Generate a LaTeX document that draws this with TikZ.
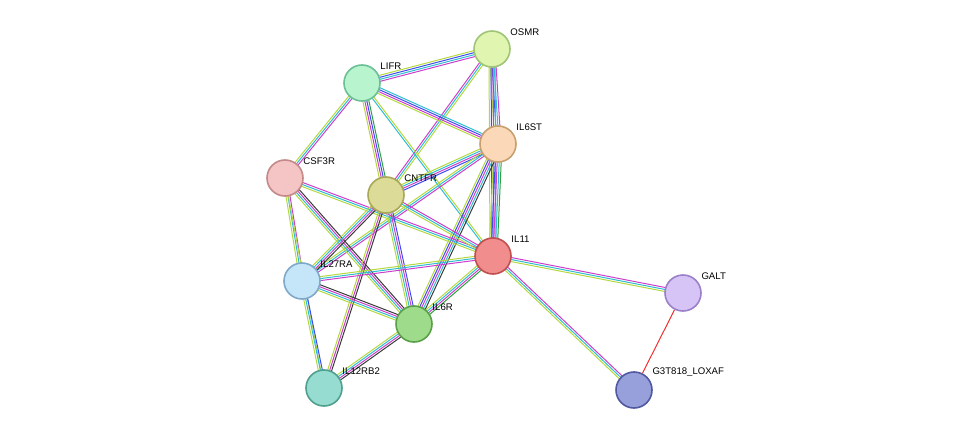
\documentclass[tikz,border=0pt]{standalone}
\usepackage{fontspec}
\setmainfont{Liberation Sans}
\usetikzlibrary{calc,backgrounds}
\definecolor{tm}{HTML}{B5D83E}
\definecolor{db}{HTML}{2EBDD1}
\definecolor{ex}{HTML}{CC3ECC}
\definecolor{hm}{HTML}{3D4CF0}
\definecolor{co}{HTML}{3A3A3A}
\definecolor{gn}{HTML}{2FA040}
\definecolor{fu}{HTML}{F03030}
\tikzset{
  prot/.style={draw,shape=circle,line width=1.6pt,minimum size=36pt,inner sep=0pt},
  lab/.style={anchor=south west,inner sep=1pt,xshift=4pt,yshift=-1pt,font=\fontsize{9.6}{10}\selectfont},
  lnk/.style={line width=1pt}
}
% one coloured line per evidence channel, offset sideways
\newcommand\strEdge[3]{%
  \foreach \c/\o in {#3}{%
    \draw[lnk,\c] ($(#1)!\o pt!90:(#2)$) -- ($(#2)!\o pt!-90:(#1)$);}}
\begin{document}
\begin{tikzpicture}[x=1pt,y=-1pt]
  \useasboundingbox (0,0) rectangle (975,436);
  \node[prot,fill={rgb,255:red,223;green,245;blue,176},draw={rgb,255:red,160;green,196;blue,120},label={[lab]north east:OSMR}] (OSMR) at (492,49) {};
  \node[prot,fill={rgb,255:red,184;green,245;blue,207},draw={rgb,255:red,108;green,192;blue,150},label={[lab]north east:LIFR}] (LIFR) at (362,83) {};
  \node[prot,fill={rgb,255:red,251;green,217;blue,184},draw={rgb,255:red,200;green,160;blue,112},label={[lab]north east:IL6ST}] (IL6ST) at (498,144) {};
  \node[prot,fill={rgb,255:red,245;green,196;blue,196},draw={rgb,255:red,196;green,138;blue,138},label={[lab]north east:CSF3R}] (CSF3R) at (285,178) {};
  \node[prot,fill={rgb,255:red,220;green,220;blue,152},draw={rgb,255:red,168;green,168;blue,88},label={[lab]north east:CNTFR}] (CNTFR) at (386,195) {};
  \node[prot,fill={rgb,255:red,242;green,141;blue,141},draw={rgb,255:red,192;green,80;blue,80},label={[lab]north east:IL11}] (IL11) at (493,256) {};
  \node[prot,fill={rgb,255:red,214;green,196;blue,247},draw={rgb,255:red,154;green,128;blue,200},label={[lab]north east:GALT}] (GALT) at (683,293) {};
  \node[prot,fill={rgb,255:red,196;green,230;blue,248},draw={rgb,255:red,128;green,168;blue,200},label={[lab]north east:IL27RA}] (IL27RA) at (302,281) {};
  \node[prot,fill={rgb,255:red,158;green,220;blue,140},draw={rgb,255:red,90;green,160;blue,72},label={[lab]north east:IL6R}] (IL6R) at (414,324) {};
  \node[prot,fill={rgb,255:red,150;green,220;blue,208},draw={rgb,255:red,80;green,160;blue,144},label={[lab]north east:IL12RB2}] (IL12RB2) at (324,388) {};
  \node[prot,fill={rgb,255:red,152;green,160;blue,220},draw={rgb,255:red,80;green,88;blue,160},label={[lab]north east:G3T818\_LOXAF}] (G3T818) at (634,390) {};

  \begin{scope}[on background layer]
    \strEdge{OSMR}{LIFR}{tm/-3,hm/-1,db/1,ex/3}
    \strEdge{OSMR}{IL6ST}{tm/-3,hm/-1,db/1,ex/3}
    \strEdge{OSMR}{IL11}{tm/-3,hm/-1,ex/1,db/3}
    \strEdge{OSMR}{CNTFR}{ex/-2,db/0,tm/2}
    \strEdge{LIFR}{IL6ST}{tm/-3,ex/-1,hm/1,db/3}
    \strEdge{LIFR}{CNTFR}{tm/-3,ex/-1,hm/1,gn/3}
    \strEdge{LIFR}{IL11}{db/-1,tm/1}
    \strEdge{LIFR}{CSF3R}{tm/-2,db/0,ex/2}
    \strEdge{IL6ST}{CNTFR}{tm/-3,db/-1,ex/1,hm/3}
    \strEdge{IL6ST}{IL11}{tm/-4,hm/-2,ex/0,db/2,gn/4}
    \strEdge{IL6ST}{IL6R}{tm/-4,hm/-2,ex/0,db/2,co/4}
    \strEdge{IL6ST}{IL27RA}{tm/-2,db/0,ex/2}
    \strEdge{CSF3R}{IL11}{tm/-2,db/0,ex/2}
    \strEdge{CSF3R}{IL27RA}{tm/-2,db/0,ex/2}
    \strEdge{CSF3R}{IL6R}{tm/-3,db/-1,ex/1,co/3}
    \strEdge{CSF3R}{IL12RB2}{tm/0}
    \strEdge{CNTFR}{IL6R}{tm/-3,db/-1,ex/1,hm/3}
    \strEdge{CNTFR}{IL11}{tm/-2,db/0,ex/2}
    \strEdge{CNTFR}{IL27RA}{tm/-3,db/-1,ex/1,co/3}
    \strEdge{CNTFR}{IL12RB2}{tm/-2,ex/0,co/2}
    \strEdge{IL11}{IL27RA}{tm/-2,db/0,ex/2}
    \strEdge{IL11}{IL6R}{tm/-3,db/-1,ex/1,gn/3}
    \strEdge{IL11}{GALT}{tm/-2,db/0,ex/2}
    \strEdge{IL11}{G3T818}{tm/-2,db/0,ex/2}
    \strEdge{IL27RA}{IL6R}{tm/-3,db/-1,ex/1,co/3}
    \strEdge{IL27RA}{IL12RB2}{tm/-2,db/0,hm/2}
    \strEdge{IL6R}{IL12RB2}{tm/-3,db/-1,ex/1,co/3}
    \draw[lnk,fu] (GALT) -- (G3T818);
  \end{scope}
\end{tikzpicture}
\end{document}
